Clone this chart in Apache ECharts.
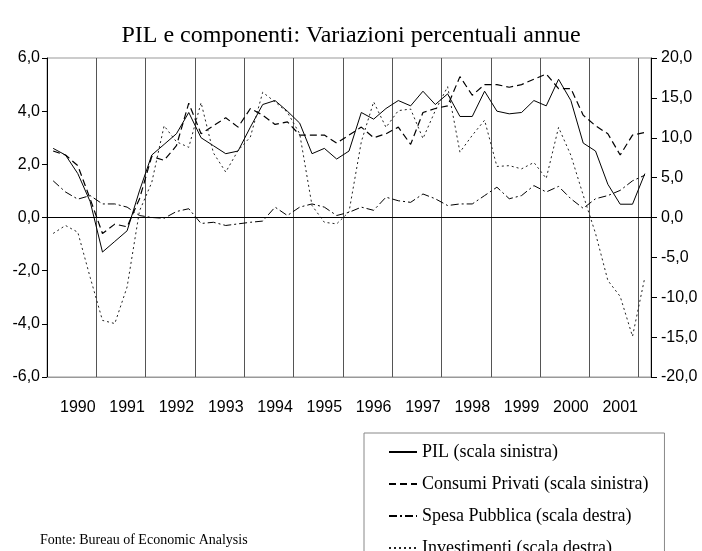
<!DOCTYPE html>
<html>
<head>
<meta charset="utf-8">
<title>PIL e componenti</title>
<script src="https://cdn.jsdelivr.net/npm/echarts@6/dist/echarts.min.js"></script>
<style>
  html, body { margin: 0; padding: 0; background: #fff; }
  #chart { width: 702px; height: 551px; }
</style>
</head>
<body>
<div id="chart"></div>
<script>
// anni sull'asse x (dati trimestrali 1990T1 - 2002T1)
var years = ['1990', '1991', '1992', '1993', '1994', '1995', '1996', '1997', '1998', '1999', '2000', '2001', '2002']
var quarters = ['T1', 'T2', 'T3', 'T4']

// scala sinistra
var pil = [2.6, 2.35, 1.65, 0.6, -1.3, -0.9, -0.5, 1.0, 2.35, 2.75, 3.15, 3.95,
  3.0, 2.7, 2.4, 2.5, 3.4, 4.25, 4.4, 4.0, 3.55, 2.4, 2.6, 2.2,
  2.5, 3.95, 3.7, 4.1, 4.4, 4.2, 4.75, 4.25, 4.65, 3.8, 3.8, 4.75,
  4.0, 3.9, 3.95, 4.4, 4.2, 5.2, 4.4, 2.8, 2.5, 1.25, 0.5, 0.5,
  1.65]
var consumi = [2.5, 2.35, 1.95, 0.7, -0.6, -0.25, -0.35, 0.7, 2.3, 2.15, 2.7, 4.3,
  3.15, 3.45, 3.75, 3.4, 4.1, 3.85, 3.5, 3.6, 3.1, 3.1, 3.1, 2.8,
  3.1, 3.4, 3.0, 3.15, 3.4, 2.75, 3.95, 4.1, 4.2, 5.3, 4.6, 5.0,
  5.0, 4.9, 5.0, 5.2, 5.4, 4.85, 4.85, 3.85, 3.45, 3.15, 2.35, 3.1,
  3.2]
// scala destra
var spesa = [4.6, 3.2, 2.3, 2.75, 1.7, 1.7, 1.3, 0.25, 0.0, -0.1, 0.75, 1.1,
  -0.75, -0.6, -1.0, -0.8, -0.6, -0.45, 1.3, 0.25, 1.3, 1.7, 1.3, 0.25,
  0.65, 1.3, 0.9, 2.55, 2.1, 1.9, 2.95, 2.35, 1.5, 1.7, 1.7, 2.75,
  3.8, 2.35, 2.75, 4.0, 3.2, 3.9, 2.35, 1.15, 2.35, 2.75, 3.4, 4.6,
  5.3]
var investimenti = [-2.0, -1.0, -1.85, -7.5, -12.9, -13.3, -8.7, 0.8, 4.4, 11.5, 9.5, 8.8,
  14.4, 8.1, 5.7, 8.4, 10.1, 15.7, 14.5, 13.2, 10.5, 1.5, -0.6, -0.8,
  0.7, 9.5, 14.5, 11.3, 13.4, 13.6, 9.9, 13.4, 16.4, 8.2, 10.3, 12.2,
  6.4, 6.5, 6.1, 6.9, 4.9, 11.3, 7.8, 2.8, -2.0, -7.9, -9.9, -14.9,
  -7.5]

var seriesNames = ['PIL (scala sinistra)', 'Consumi Privati (scala sinistra)', 'Spesa Pubblica (scala destra)', 'Investimenti (scala destra)']

var categories = []
years.forEach(function(y) {
  quarters.forEach(function(q) {
    if (categories.length < pil.length) categories.push(y + ' ' + q)
  })
})

function comma(v) {
  return v.toFixed(1).replace('.', ',')
}

var serif = '"Liberation Serif", "Times New Roman", serif'
var sans = '"Liberation Sans", Arial, sans-serif'

var chart = echarts.init(document.getElementById('chart'))

var options = {
  animation: false,
  backgroundColor: '#fff',
  title: {
    text: 'PIL e componenti: Variazioni percentuali annue',
    left: 'center',
    top: 19,
    textStyle: {
      fontFamily: serif,
      fontSize: 24,
      fontWeight: 'normal',
      color: '#000'
    }
  },
  grid: {
    left: 47,
    right: 51,
    top: 58,
    bottom: 174,
    show: true,
    borderColor: '#999',
    borderWidth: 1
  },
  legend: {
    orient: 'vertical',
    left: 364,
    top: 433,
    height: 200,
    itemWidth: 28,
    itemHeight: 14,
    itemGap: 14,
    padding: [10, 16, 12, 24],
    borderColor: '#888',
    borderWidth: 1,
    itemStyle: { opacity: 0 },
    textStyle: {
      fontFamily: serif,
      fontSize: 18,
      color: '#000'
    },
    data: seriesNames
  },
  xAxis: {
    type: 'category',
    data: categories,
    boundaryGap: true,
    axisLine: { onZero: false, lineStyle: { color: '#999' } },
    axisTick: { show: false },
    axisLabel: {
      interval: function(index) { return index % 4 === 2 },
      formatter: function(v) { return v.slice(0, 4) },
      margin: 23,
      fontFamily: sans,
      fontSize: 16,
      color: '#000'
    },
    splitLine: {
      show: true,
      interval: 3,
      lineStyle: { color: '#555', width: 1 }
    }
  },
  yAxis: [
    {
      type: 'value',
      position: 'left',
      min: -6,
      max: 6,
      interval: 2,
      axisLine: { show: true, lineStyle: { color: '#000' } },
      axisTick: { show: true, length: 5, lineStyle: { color: '#000' } },
      axisLabel: { formatter: comma, margin: 7, fontFamily: sans, fontSize: 16, color: '#000' },
      splitLine: { show: false }
    },
    {
      type: 'value',
      position: 'right',
      min: -20,
      max: 20,
      interval: 5,
      axisLine: { show: true, lineStyle: { color: '#000' } },
      axisTick: { show: true, length: 6, lineStyle: { color: '#000' } },
      axisLabel: { formatter: comma, margin: 10, fontFamily: sans, fontSize: 16, color: '#000' },
      splitLine: { show: false }
    }
  ],
  series: [
    {
      name: seriesNames[0],
      type: 'line',
      yAxisIndex: 0,
      data: pil,
      symbol: 'none',
      lineStyle: { color: '#000', width: 1, type: 'solid' },
      itemStyle: { color: '#000' },
      markLine: {
        silent: true,
        symbol: ['none', 'none'],
        label: { show: false },
        lineStyle: { color: '#000', width: 1, type: 'solid' },
        data: [{ yAxis: 0 }]
      }
    },
    {
      name: seriesNames[1],
      type: 'line',
      yAxisIndex: 0,
      data: consumi,
      symbol: 'none',
      lineStyle: { color: '#000', width: 1.2, type: [7, 4] },
      itemStyle: { color: '#000' }
    },
    {
      name: seriesNames[2],
      type: 'line',
      yAxisIndex: 1,
      data: spesa,
      symbol: 'none',
      lineStyle: { color: '#000', width: 1, type: [8, 3, 2, 3] },
      itemStyle: { color: '#000' }
    },
    {
      name: seriesNames[3],
      type: 'line',
      yAxisIndex: 1,
      data: investimenti,
      symbol: 'none',
      lineStyle: { color: '#222', width: 1, type: [2, 3] },
      itemStyle: { color: '#222' }
    }
  ],
  graphic: [
    {
      type: 'text',
      left: 40,
      top: 533,
      style: {
        text: 'Fonte: Bureau of Economic Analysis',
        font: '14px ' + serif,
        fill: '#000'
      }
    }
  ]
}

chart.setOption(options)
</script>
</body>
</html>
